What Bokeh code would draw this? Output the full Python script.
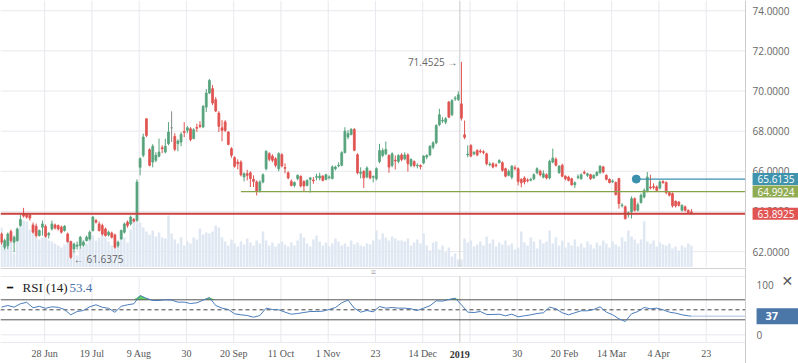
import numpy as np
from bokeh.plotting import figure
from bokeh.layouts import column
from bokeh.models import (Range1d, FixedTicker, Label, ColumnDataSource,
                          NumeralTickFormatter, LinearAxis)
from bokeh.embed import file_html
from bokeh.resources import INLINE

# ---------------- data ----------------
open_ = [
62.88, 62.22, 62.30, 63.00, 62.47, 62.55, 63.30, 63.88, 63.88, 63.83,
63.33, 63.27, 62.80, 63.22, 63.25, 62.83, 63.13, 63.33, 63.30, 63.22,
63.05, 62.88, 62.50, 62.13, 62.27, 62.30, 62.33, 62.55, 62.63, 63.05,
63.55, 63.38, 63.30, 63.13, 62.83, 62.93, 62.83, 62.30, 62.63, 62.97,
63.47, 63.38, 63.60, 63.56, 66.20, 66.80, 68.62, 67.08, 66.46, 66.55,
66.75, 67.18, 66.96, 67.38, 68.17, 67.74, 67.38, 67.46, 67.98, 68.04,
68.12, 67.63, 68.19, 68.29, 68.21, 69.20, 69.90, 70.12, 69.57, 68.90,
68.17, 68.46, 67.96, 67.13, 66.68, 66.46, 66.46, 65.72, 65.88, 65.93,
65.60, 65.47, 65.05, 65.47, 66.13, 66.88, 66.76, 66.63, 66.13, 66.83,
66.19, 65.93, 65.50, 65.30, 65.64, 65.75, 65.50, 65.30, 65.60, 65.57,
65.70, 65.67, 65.77, 65.60, 65.69, 65.64, 66.13, 66.27, 66.30, 66.93,
67.71, 67.83, 68.09, 66.83, 65.90, 66.00, 65.72, 66.00, 65.70, 65.63,
66.49, 66.79, 66.87, 66.79, 66.29, 66.56, 66.49, 66.82, 66.62, 66.82,
66.29, 66.49, 66.28, 66.29, 66.42, 66.71, 66.82, 67.20, 67.42, 68.32,
68.51, 68.45, 69.45, 68.82, 69.61, 69.58, 69.36, 67.82, 66.82, 67.29,
66.87, 67.04, 67.01, 66.98, 66.87, 66.33, 66.38, 66.32, 66.43, 66.43,
66.13, 65.80, 65.71, 66.18, 66.13, 65.60, 65.67, 65.57, 65.56, 65.63,
65.93, 66.00, 65.71, 65.83, 65.67, 66.46, 66.60, 65.93, 66.30, 65.76,
65.71, 65.63, 65.33, 65.69, 65.63, 65.95, 65.80, 65.83, 65.67, 65.80,
65.93, 66.22, 65.80, 65.60, 65.48, 65.44, 65.64, 64.28, 64.23, 63.84,
63.98, 64.64, 64.06, 64.44, 64.72, 65.00, 65.22, 65.24, 65.22, 65.17,
65.50, 65.44, 64.94, 64.89, 64.51, 64.47, 64.06, 64.23, 64.06, 63.98,
]
high_ = [
62.95, 62.65, 62.95, 63.10, 62.80, 63.20, 63.85, 64.18, 63.92, 63.90,
63.45, 63.40, 63.10, 63.55, 63.35, 62.98, 63.55, 63.40, 63.35, 63.30,
63.32, 62.95, 62.55, 62.45, 62.50, 62.78, 62.55, 62.80, 63.05, 63.78,
63.63, 63.50, 63.40, 63.20, 63.05, 63.00, 62.90, 62.55, 63.10, 63.45,
63.55, 63.80, 63.68, 65.60, 66.70, 67.88, 68.62, 67.15, 67.35, 66.95,
67.63, 67.30, 67.63, 68.45, 68.99, 67.90, 67.60, 67.95, 68.45, 68.25,
68.20, 68.15, 68.37, 68.50, 69.30, 70.10, 70.60, 70.30, 69.70, 69.00,
68.55, 68.55, 68.00, 67.20, 66.75, 66.60, 66.55, 65.95, 66.08, 66.00,
65.80, 65.55, 65.55, 65.90, 67.05, 66.95, 66.85, 66.70, 66.95, 66.90,
66.40, 66.00, 65.60, 65.50, 65.85, 65.80, 65.55, 65.60, 65.72, 65.72,
65.88, 65.93, 65.80, 65.88, 65.80, 66.30, 66.28, 66.45, 67.00, 68.20,
68.05, 68.15, 68.15, 66.90, 66.20, 66.05, 66.25, 66.05, 65.80, 66.20,
67.37, 67.15, 67.49, 66.85, 66.95, 66.79, 66.85, 66.90, 66.95, 66.90,
66.65, 66.55, 66.40, 66.35, 66.80, 66.85, 67.30, 67.50, 68.35, 69.12,
68.70, 68.70, 69.50, 69.60, 69.75, 69.98, 71.4525, 68.53, 67.29, 67.35,
67.00, 67.10, 67.10, 67.05, 66.93, 66.45, 66.45, 66.40, 66.60, 66.50,
66.18, 66.10, 66.30, 66.30, 66.20, 65.65, 65.75, 65.65, 65.68, 65.90,
66.20, 66.08, 66.05, 65.90, 66.58, 67.13, 66.70, 66.30, 66.38, 65.80,
65.78, 65.68, 65.50, 65.85, 65.90, 66.05, 65.93, 65.88, 65.85, 66.00,
66.30, 66.28, 65.85, 65.65, 65.60, 65.50, 65.66, 64.42, 64.30, 64.00,
64.75, 64.70, 64.45, 64.90, 65.15, 65.97, 65.83, 65.40, 65.30, 65.55,
65.55, 65.50, 65.00, 64.95, 64.55, 64.52, 64.35, 64.30, 64.10, 64.12,
]
low_ = [
62.35, 62.10, 62.13, 62.45, 61.97, 62.50, 63.25, 63.70, 63.65, 63.55,
62.90, 62.70, 62.75, 62.80, 62.70, 62.65, 63.05, 63.10, 63.05, 62.90,
63.00, 62.45, 61.6375, 61.95, 62.10, 62.15, 62.25, 62.50, 62.55, 63.00,
63.40, 63.00, 62.80, 62.75, 62.75, 62.65, 62.15, 62.20, 62.60, 62.90,
63.20, 63.30, 63.45, 63.50, 65.80, 66.70, 67.70, 66.25, 66.20, 66.45,
66.70, 66.90, 66.90, 67.30, 67.46, 67.00, 67.00, 67.25, 67.70, 67.90,
67.50, 67.60, 67.96, 68.15, 68.15, 68.95, 69.85, 69.30, 68.95, 67.96,
67.50, 67.95, 67.30, 66.68, 66.18, 66.10, 65.75, 65.50, 65.55, 65.22,
65.22, 64.80, 64.95, 65.40, 66.05, 66.50, 66.45, 66.20, 66.00, 66.20,
65.90, 65.60, 65.25, 65.20, 65.55, 65.20, 65.00, 65.25, 64.94, 65.38,
65.55, 65.55, 65.50, 65.55, 65.60, 65.60, 66.05, 66.20, 66.25, 66.90,
67.60, 67.80, 67.00, 65.85, 65.65, 65.17, 65.65, 65.60, 65.45, 65.55,
66.40, 66.70, 66.80, 65.93, 66.20, 66.09, 66.40, 66.50, 66.55, 65.99,
66.20, 66.20, 66.15, 66.10, 66.35, 66.60, 66.75, 67.10, 67.35, 68.25,
68.40, 68.35, 68.65, 68.75, 69.50, 69.50, 68.53, 67.60, 66.70, 66.70,
66.80, 66.75, 66.90, 66.85, 66.30, 66.25, 66.15, 66.20, 66.40, 65.98,
65.70, 65.75, 65.60, 66.05, 65.30, 65.20, 65.35, 65.45, 65.50, 65.55,
65.85, 65.75, 65.65, 65.60, 65.60, 66.40, 66.25, 65.88, 65.70, 65.55,
65.50, 65.28, 65.17, 65.60, 65.58, 65.85, 65.72, 65.58, 65.62, 65.75,
65.88, 65.90, 65.55, 65.40, 65.42, 64.80, 64.14, 64.20, 63.60, 63.70,
63.65, 64.00, 64.00, 64.40, 64.65, 64.95, 65.10, 65.10, 65.00, 65.10,
65.38, 64.85, 64.75, 64.20, 64.20, 64.25, 64.00, 64.00, 63.88, 63.85,
]
close_ = [
62.47, 62.55, 62.88, 62.55, 62.72, 63.13, 63.60, 63.77, 63.72, 63.67,
62.97, 62.80, 63.05, 63.38, 62.77, 62.90, 63.38, 63.18, 63.13, 62.97,
63.27, 62.50, 61.72, 62.38, 62.33, 62.72, 62.47, 62.72, 62.97, 63.72,
63.47, 63.05, 62.88, 62.80, 62.97, 62.72, 62.22, 62.47, 63.05, 63.38,
63.30, 63.72, 63.52, 65.47, 66.63, 67.71, 67.79, 66.30, 67.25, 66.80,
66.96, 67.13, 67.25, 67.96, 68.17, 67.10, 67.51, 67.84, 67.94, 68.17,
67.58, 68.07, 68.15, 68.24, 69.24, 69.90, 70.53, 69.40, 69.00, 68.24,
68.04, 68.04, 67.34, 66.80, 66.25, 66.38, 65.83, 65.88, 65.80, 65.64,
65.50, 65.00, 65.47, 65.83, 67.00, 66.60, 66.55, 66.30, 66.88, 66.27,
66.15, 65.67, 65.30, 65.44, 65.80, 65.27, 65.27, 65.55, 65.67, 65.53,
65.74, 65.77, 65.55, 65.83, 65.72, 66.22, 66.22, 66.30, 66.93, 68.00,
67.88, 68.09, 67.05, 65.93, 65.96, 65.67, 66.17, 65.67, 65.74, 66.13,
67.04, 67.04, 67.09, 66.21, 66.87, 66.52, 66.79, 66.59, 66.82, 66.38,
66.59, 66.29, 66.31, 66.24, 66.76, 66.79, 67.25, 67.42, 68.28, 68.82,
68.55, 68.62, 68.70, 69.53, 69.65, 69.81, 68.65, 67.70, 66.86, 66.76,
66.95, 66.82, 66.97, 66.94, 66.38, 66.36, 66.21, 66.28, 66.54, 66.05,
65.76, 66.00, 66.26, 66.14, 65.50, 65.43, 65.47, 65.53, 65.60, 65.83,
66.13, 65.83, 65.88, 65.67, 66.50, 66.66, 66.30, 66.26, 65.76, 65.63,
65.55, 65.33, 65.43, 65.73, 65.83, 65.91, 65.88, 65.63, 65.80, 65.96,
66.26, 65.97, 65.60, 65.44, 65.52, 64.84, 64.39, 64.32, 63.64, 63.94,
64.64, 64.06, 64.34, 64.81, 65.05, 65.72, 65.17, 65.20, 65.05, 65.47,
65.44, 64.94, 64.81, 64.28, 64.28, 64.31, 64.31, 64.06, 63.94, 63.89,
]
volume = [
40, 22, 30, 29, 14, 35, 42, 47, 46, 38,
34, 30, 28, 30, 35, 27, 26, 24, 22, 20,
23, 27, 25, 16, 12, 20, 28, 24, 30, 32,
27, 30, 36, 30, 26, 22, 20, 22, 34, 30,
25, 38, 49, 48, 45, 40, 36, 33, 37, 31,
35, 30, 29, 52, 34, 28, 24, 30, 22, 26,
24, 30, 28, 39, 33, 35, 34, 36, 42, 40,
30, 26, 22, 28, 24, 21, 26, 23, 29, 25,
22, 27, 24, 36, 27, 22, 25, 21, 24, 26,
23, 21, 25, 22, 27, 34, 30, 24, 21, 28,
32, 26, 22, 25, 21, 24, 29, 26, 22, 24,
21, 27, 23, 25, 22, 21, 24, 23, 27, 37,
28, 34, 30, 27, 31, 29, 27, 27, 26, 29,
22, 25, 28, 24, 34, 22, 17, 25, 26, 18,
22, 15, 20, 11, 14, 8, 8, 29, 25, 27,
21, 23, 26, 22, 31, 24, 28, 21, 25, 23,
27, 22, 24, 18, 20, 36, 25, 22, 30, 26,
19, 28, 24, 26, 37, 24, 30, 22, 27, 20,
25, 22, 28, 21, 24, 20, 26, 23, 19, 25,
22, 27, 24, 20, 26, 23, 21, 30, 26, 37,
31, 28, 24, 28, 46, 26, 24, 27, 21, 25,
23, 22, 24, 19, 21, 17, 22, 20, 24, 22,
]
# RSI(14) read every second session, plus the last one
rsi_idx = list(range(0, 220, 2)) + [219]
rsi = [
55.3, 58.6, 55.3, 62.0, 65.0, 54.0, 57.0, 53.0, 56.0, 55.0,
50.6, 40.0, 46.6, 48.6, 56.0, 60.0, 55.0, 53.0, 45.0, 57.0,
60.0, 62.0, 78.6, 73.0, 68.6, 68.6, 70.0, 69.3, 65.3, 65.3,
62.6, 64.0, 69.3, 74.6, 58.6, 53.3, 50.6, 42.0, 40.0, 38.6,
35.2, 38.6, 53.3, 50.6, 50.0, 45.3, 41.2, 42.6, 44.6, 46.6,
46.6, 47.3, 50.6, 54.6, 64.0, 69.3, 53.3, 45.3, 48.6, 46.0,
56.6, 53.3, 54.6, 53.3, 53.3, 52.0, 48.6, 53.3, 58.0, 68.0,
67.3, 70.6, 73.3, 60.0, 45.3, 44.6, 46.6, 40.6, 40.6, 41.2,
38.0, 41.2, 36.0, 38.0, 40.0, 42.6, 44.0, 55.3, 52.0, 44.0,
40.0, 44.0, 48.0, 48.0, 50.6, 56.0, 45.3, 40.0, 32.0, 26.6,
42.0, 46.6, 54.6, 52.0, 53.3, 50.0, 45.3, 43.3, 40.0, 38.0,
37.3,
]
rsi_header = "53.4"
# horizontal levels: price, first session, colour
levels = [63.8925, 64.9924, 65.6135]
level_from = [-0.32, 76, 201.5]
level_colors = ["#c8423f", "#86a44a", "#3b90ad"]
tag_colors = ["#e05552", "#8fac52", "#3f93ad"]
price_ticks = [62, 64, 66, 68, 70, 72, 74]
tick_idx = [13.7, 28.7, 43.7, 58.7, 73.7, 88.7, 103.7, 118.7, 133.7,
            148.7, 163.7, 178.7, 193.7, 208.7, 223.7]
tick_labels = ["28 Jun", "19 Jul", "9 Aug", "30", "20 Sep", "11 Oct", "1 Nov", "23",
               "14 Dec", "", "30", "20 Feb", "14 Mar", "4 Apr", "23"]
year_idx = 145.5
year_label = "2019"

# ---------------- build ----------------
UP, DOWN, FLAT = "#57a37c", "#e05451", "#8a8a8a"
n = len(close_)
idx = np.arange(n)
o = np.array(open_); c = np.array(close_)
colors = [UP if cc > oo else (DOWN if cc < oo else FLAT) for oo, cc in zip(o, c)]
src = ColumnDataSource(dict(x=idx, high=high_, low=low_, top=np.maximum(o, c),
                            bottom=np.minimum(o, c), vol=volume, color=colors))

X0, XAX, XEND = -0.32, 236.2, 253.0      # left edge, price-axis line, right edge
W = 798
GRID = "#e8e8ee"
SANS = "Open Sans"
PY0, PY1 = 61.21, 74.51
RY0, RY1 = -57.4, 134.6          # RSI figure vertical extent
RB, RT = -15.4, 116.6            # RSI pane bottom / top

xr = Range1d(X0, XEND)


def style_axis(ax, size="10px", font=SANS, color="#666666"):
    ax.major_tick_line_color = None
    ax.minor_tick_line_color = None
    ax.major_tick_out = 0
    ax.major_tick_in = 0
    ax.minor_tick_out = 0
    ax.major_label_text_font = font
    ax.major_label_text_font_size = size
    ax.major_label_text_color = color


# ---------------- price pane ----------------
p = figure(width=W, height=267, x_range=xr, y_range=Range1d(PY0, PY1),
           x_axis_location=None, y_axis_location=None,
           output_backend="svg", toolbar_location=None,
           min_border_left=0, min_border_right=0, min_border_top=0, min_border_bottom=0)
p.outline_line_color = None
p.grid.visible = False

# grid lines, stopping at the price axis
p.segment(x0=X0, y0=price_ticks, x1=XAX, y1=price_ticks, line_color=GRID, line_width=1)
p.segment(x0=tick_idx, y0=PY0, x1=tick_idx, y1=PY1, line_color=GRID, line_width=1)

p.extra_y_ranges = {"vol": Range1d(0, 267)}
p.vbar(x="x", width=0.8, top="vol", bottom=0, y_range_name="vol",
       fill_color="#dfe8f2", line_color=None, source=src)
p.segment(x0=[year_idx], y0=[PY0], x1=[year_idx], y1=[PY1], line_color="#c9c9c9", line_width=1)
p.segment(x0="x", y0="high", x1="x", y1="low", line_color="color", line_width=1, source=src)
p.vbar(x="x", width=0.6, top="top", bottom="bottom", fill_color="color",
       line_color="color", line_width=0.8, source=src)

yax = LinearAxis(fixed_location=XAX, ticker=FixedTicker(ticks=price_ticks),
                 formatter=NumeralTickFormatter(format="0.0000"))
style_axis(yax)
yax.axis_line_color = "#cccccc"
yax.major_label_standoff = 7
p.add_layout(yax, "right")

for lv, lf, lc, tc in zip(levels, level_from, level_colors, tag_colors):
    p.segment(x0=[lf], y0=[lv], x1=[XAX], y1=[lv], line_color=lc,
              line_width=2 if lv == levels[0] else 1.3)
    if lv == levels[2]:
        p.scatter(x=[lf], y=[lv], size=8, fill_color=lc, line_color=lc)
    p.add_layout(Label(x=XAX, y=lv, x_offset=7, text=f"{lv:.4f}", text_color="white",
                       text_font=SANS, text_font_size="10px", text_baseline="middle",
                       text_align="left", background_fill_color=tc,
                       padding=dict(left=5, right=9, top=2, bottom=2)))

hi = int(np.argmax(high_)); lo = int(np.argmin(low_))
p.add_layout(Label(x=hi, y=high_[hi], x_offset=-4, text=f"{high_[hi]:.4f} \u2192",
                   text_align="right", text_baseline="middle", text_font=SANS,
                   text_font_size="10px", text_color="#666666"))
p.add_layout(Label(x=lo, y=low_[lo], x_offset=3, text=f"\u2190 {low_[lo]:.4f}",
                   text_align="left", text_baseline="middle", text_font=SANS,
                   text_font_size="10px", text_color="#666666"))

# ---------------- RSI pane ----------------
r = figure(width=W, height=96, x_range=xr, y_range=Range1d(RY0, RY1),
           x_axis_location=None, y_axis_location=None,
           output_backend="svg", toolbar_location=None,
           min_border_left=0, min_border_right=0, min_border_top=0, min_border_bottom=0)
r.outline_line_color = None
r.grid.visible = False

r.segment(x0=X0, y0=[132.6], x1=XAX, y1=[132.6], line_color="#d3d3d3", line_width=1)
r.segment(x0=X0, y0=[RB, 0, RT], x1=XAX, y1=[RB, 0, RT], line_color=GRID, line_width=1)
r.segment(x0=tick_idx, y0=RB, x1=tick_idx, y1=RT, line_color=GRID, line_width=1)
r.segment(x0=[year_idx], y0=[RB], x1=[year_idx], y1=[RT], line_color="#c9c9c9", line_width=1)

xax = LinearAxis(fixed_location=RB, ticker=FixedTicker(ticks=tick_idx),
                 major_label_overrides={t: l for t, l in zip(tick_idx, tick_labels)})
style_axis(xax, font="Liberation Serif", color="#555555")
xax.axis_line_color = None
xax.major_label_standoff = 5
r.add_layout(xax, "below")

ryax = LinearAxis(fixed_location=XAX, ticker=FixedTicker(ticks=[0, 100]))
style_axis(ryax)
ryax.axis_line_color = "#cccccc"
ryax.major_label_standoff = 11
r.add_layout(ryax, "right")

rsi_a = np.array(rsi)
r.varea(x=rsi_idx, y1=70, y2=np.maximum(rsi_a, 70), fill_color="#5cd35c")
for lv, dash, col in [(70, "solid", "#555555"), (30, "solid", "#555555"), (50, "4 3", "#444444")]:
    r.segment(x0=[X0], y0=[lv], x1=[XAX], y1=[lv], line_color=col, line_width=1, line_dash=dash)
r.line(x=rsi_idx, y=rsi, line_color="#4a7dbb", line_width=1)
r.segment(x0=[rsi_idx[-1]], y0=[rsi[-1]], x1=[XAX], y1=[rsi[-1]], line_color="#a8c0dd",
          line_width=1)
r.add_layout(Label(x=XAX, y=rsi[-1], x_offset=11, text=f"{rsi[-1]:.0f}", text_color="white",
                   text_font=SANS, text_font_size="11px", text_font_style="bold",
                   text_baseline="middle", text_align="left",
                   background_fill_color="#4a76a8",
                   padding=dict(left=9, right=27, top=4, bottom=4)))

r.add_layout(Label(x=X0, y=94.6, x_offset=6, text="\u2501", text_font_size="10px",
                   text_color="#111111", text_baseline="middle"))
r.add_layout(Label(x=X0, y=94.6, x_offset=22, text="RSI (14)", text_font="Liberation Serif",
                   text_font_size="13px", text_color="#222222", text_baseline="middle"))
r.add_layout(Label(x=X0, y=94.6, x_offset=69, text=rsi_header, text_font="Liberation Serif",
                   text_font_size="13px", text_color="#4a72aa", text_baseline="middle"))
r.add_layout(Label(x=X0, y=126.6, x_offset=373, text="\u2261", text_font_size="9px",
                   text_color="#aaaaaa", text_baseline="middle", text_align="center"))
# close icon of the indicator pane
r.add_layout(Label(x=X0, y=108.6, x_offset=781, text="\u2715", text_font="DejaVu Sans",
                   text_font_size="14px", text_color="#555555", text_baseline="middle",
                   text_align="left"))
r.add_layout(Label(x=year_idx, y=RB, y_offset=-12, text=year_label,
                   text_font="Liberation Serif", text_font_size="10px",
                   text_font_style="bold", text_color="#333333",
                   text_baseline="middle", text_align="center"))

layout = column(p, r, spacing=0)
open("out.html", "w").write(file_html(layout, INLINE))
